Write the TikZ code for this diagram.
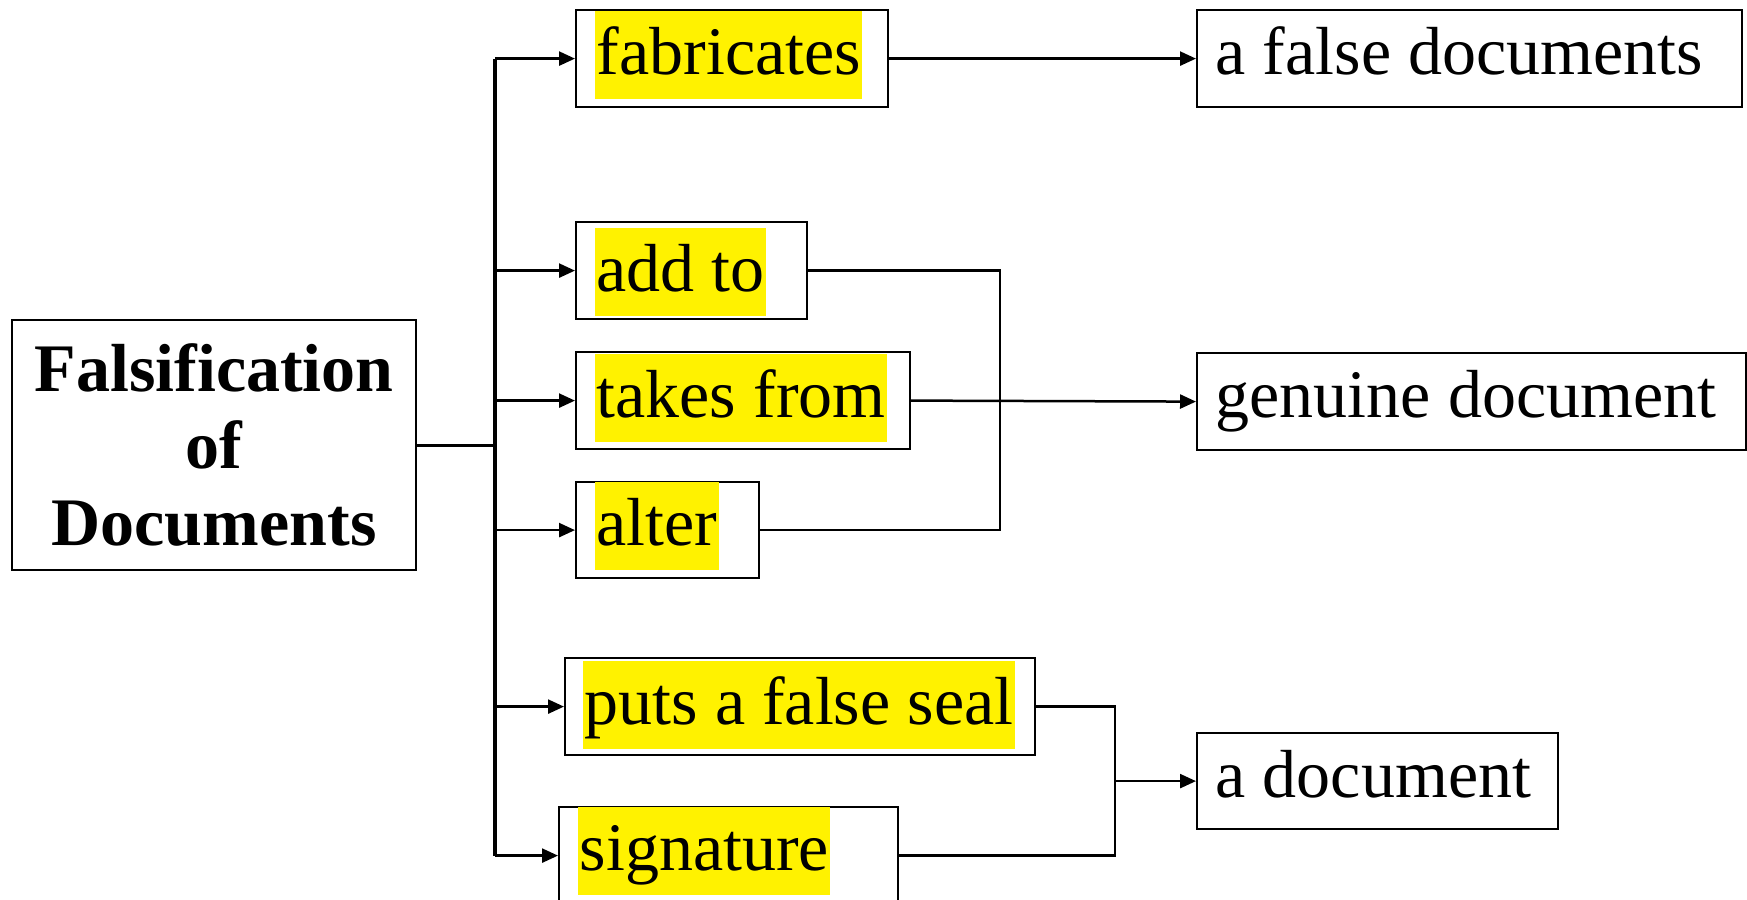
\documentclass[tikz,border=0pt]{standalone}
\usepackage{fontspec}
\setmainfont{Liberation Serif}
\usetikzlibrary{arrows.meta}
\begin{document}
\begin{tikzpicture}[x=1pt,y=-1pt,
  frame/.style={draw, line width=2.2pt, inner sep=0pt, anchor=north west},
  label/.style={inner xsep=1.5pt, inner ysep=0pt, anchor=north west,
    text height=63pt, text depth=25pt, font=\fontsize{68pt}{80pt}\selectfont},
  hl/.style={label, fill=yellow},
  link/.style={line width=2.5pt},
  arr/.style={link, -{Triangle[length=16pt,width=14pt]}},
  trunkline/.style={line width=3.5pt}]
\useasboundingbox (0,0) rectangle (1747,899);

% main topic
\node[frame, minimum width=404pt, minimum height=250pt] (main) at (11,319) {};
\node[align=center, inner sep=0pt, font=\fontsize{68pt}{77pt}\bfseries\selectfont]
  (mainT) at (main.center) {Falsification\\of\\Documents};

% acts
\node[frame, minimum width=312pt, minimum height=97pt] (fab)   at (575,9)   {};
\node[frame, minimum width=231pt, minimum height=97pt] (add)   at (575,221) {};
\node[frame, minimum width=334pt, minimum height=97pt] (takes) at (575,351) {};
\node[frame, minimum width=183pt, minimum height=96pt] (alter) at (575,481) {};
\node[frame, minimum width=470pt, minimum height=97pt] (puts)  at (564,657) {};
\node[frame, minimum width=339pt, minimum height=97pt] (sig)   at (558,806) {};

\node[hl] (fabT)   at ([xshift=20pt,yshift=-2pt]fab.north west)   {fabricates};
\node[hl] (addT)   at ([xshift=20pt,yshift=-7pt]add.north west)   {add to};
\node[hl] (takesT) at ([xshift=20pt,yshift=-3pt]takes.north west) {takes from};
\node[hl] (alterT) at ([xshift=20pt,yshift=-1pt]alter.north west) {alter};
\node[hl] (putsT)  at ([xshift=19pt,yshift=-4pt]puts.north west)  {puts a false seal};
\node[hl] (sigT)   at ([xshift=20pt,yshift=-1pt]sig.north west)   {signature};

% objects
\node[frame, minimum width=545pt, minimum height=97pt] (false) at (1196,9)   {};
\node[frame, minimum width=549pt, minimum height=97pt] (gen)   at (1196,352) {};
\node[frame, minimum width=361pt, minimum height=96pt] (doc)   at (1196,732) {};

\node[label] (falseT) at ([xshift=18pt,yshift=-2pt]false.north west) {a false documents};
\node[label] (genT)   at ([xshift=18pt,yshift=-2pt]gen.north west)   {genuine document};
\node[label] (docT)   at ([xshift=18pt,yshift=-2pt]doc.north west)   {a document};

% junction columns
\coordinate (tk) at (495,443);
\coordinate (j1) at (1000,0);
\coordinate (j2) at (1115,0);

% trunk and branches
\draw[line width=3pt] (main.east) -- (main.east -| tk);
\draw[trunkline] (fab.west -| tk) -- (sig.west -| tk);
\foreach \b in {fab,add,takes,alter,puts,sig}
  \draw[arr] (\b.west -| tk) -- (\b.west);

% results
\draw[arr] (fab.east) -- (false.west);
\draw[link] (add.east) -- (add.east -| j1) -- (alter.east -| j1) -- (alter.east);
\draw[arr] (takes.east) -- (gen.west);
\draw[link] (puts.east) -- (puts.east -| j2) -- (sig.east -| j2) -- (sig.east);
\draw[arr] (doc.west -| j2) -- (doc.west);
\end{tikzpicture}
\end{document}
